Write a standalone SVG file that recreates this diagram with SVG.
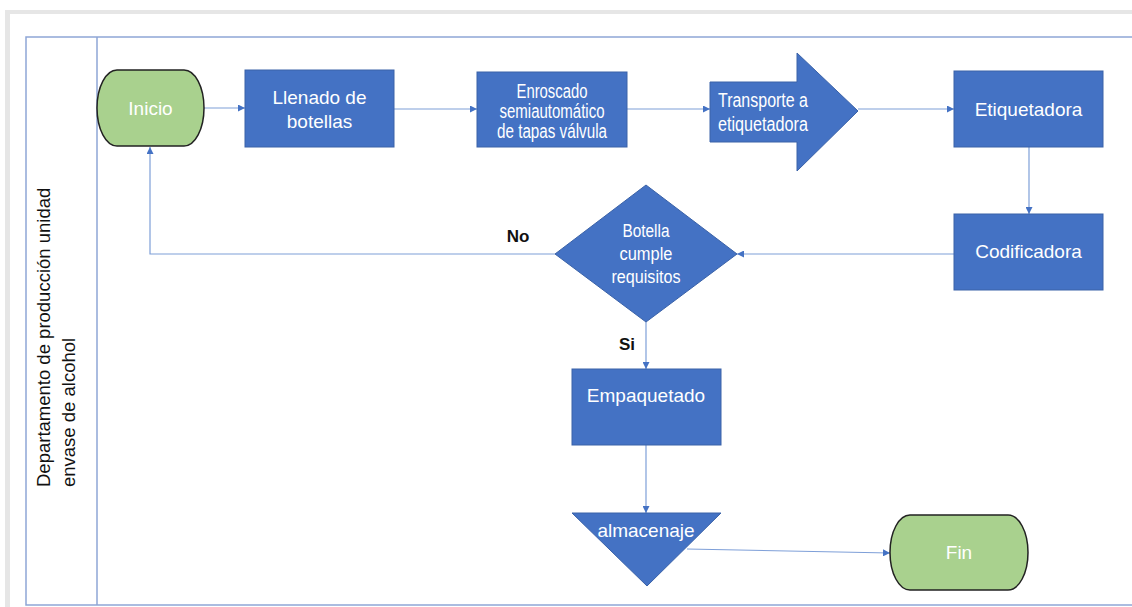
<svg xmlns="http://www.w3.org/2000/svg" width="1132" height="607" viewBox="0 0 1132 607">
  <style>
    .proc { fill: #4472C4; stroke: #3A62A8; stroke-width: 1; }
    .term { fill: #A9D18E; stroke: #222222; stroke-width: 1.5; }
    .lbl { font-family: "Liberation Sans", Arial, sans-serif; font-size: 19px; fill: #FFFFFF; text-anchor: middle; }
    .cond { font-family: "Liberation Sans", Arial, sans-serif; font-size: 20px; fill: #FFFFFF; text-anchor: middle; }
    .dec { font-family: "Liberation Sans", Arial, sans-serif; font-size: 18px; fill: #FFFFFF; text-anchor: middle; }
    .note { font-family: "Liberation Sans", Arial, sans-serif; font-size: 17px; font-weight: bold; fill: #111111; text-anchor: middle; }
    .lane { fill: none; stroke: #8EA6D6; stroke-width: 1.5; }
    .edge { fill: none; stroke: #7E9FD8; stroke-width: 1.2; }
  </style>
  <defs>
    <marker id="arrow" viewBox="0 0 10 10" refX="10" refY="5" markerWidth="7" markerHeight="7" markerUnits="userSpaceOnUse" orient="auto">
      <path d="M0,0 L10,5 L0,10 z" fill="#4472C4"/>
    </marker>
  </defs>

  <!-- page frame -->
  <rect x="0" y="0" width="1132" height="607" fill="#FFFFFF"/>
  <rect x="5" y="10" width="1127" height="4" fill="#E6E6E6"/>
  <rect x="5" y="10" width="5" height="597" fill="#E6E6E6"/>

  <!-- swimlane -->
  <g id="lane">
    <path class="lane" d="M1132,37 H26 V605 H1132"/>
    <line class="lane" x1="97" y1="37" x2="97" y2="605"/>
    <text font-family="'Liberation Sans', Arial, sans-serif" font-size="18.5" fill="#111111" transform="translate(50,487) rotate(-90)">
      <tspan x="0" y="0">Departamento de producción unidad</tspan>
      <tspan x="0" y="25">envase de alcohol</tspan>
    </text>
  </g>

  <!-- connectors -->
  <g id="connectors">
    <line class="edge" x1="204" y1="108" x2="245" y2="108" marker-end="url(#arrow)"/>
    <line class="edge" x1="394" y1="109" x2="477" y2="109" marker-end="url(#arrow)"/>
    <line class="edge" x1="627" y1="109" x2="710" y2="109" marker-end="url(#arrow)"/>
    <line class="edge" x1="858" y1="109" x2="954" y2="109" marker-end="url(#arrow)"/>
    <line class="edge" x1="1029" y1="147" x2="1029" y2="214" marker-end="url(#arrow)"/>
    <line class="edge" x1="954" y1="254" x2="737" y2="254" marker-end="url(#arrow)"/>
    <path class="edge" d="M555,254 H150 V147" marker-end="url(#arrow)"/>
    <line class="edge" x1="646" y1="322" x2="646" y2="369" marker-end="url(#arrow)"/>
    <line class="edge" x1="646" y1="445" x2="646" y2="513" marker-end="url(#arrow)"/>
    <line class="edge" x1="687" y1="549" x2="890" y2="553" marker-end="url(#arrow)"/>
    <text class="note" x="518" y="242">No</text>
    <text class="note" x="627" y="350">Si</text>
  </g>

  <g id="inicio">
    <rect class="term" x="97" y="70" width="107" height="76" rx="20" ry="38"/>
    <text class="lbl" x="150.5" y="115">Inicio</text>
  </g>

  <g id="llenado">
    <rect class="proc" x="245" y="70" width="149" height="77"/>
    <text class="lbl" x="319.5" y="104">Llenado de</text>
    <text class="lbl" x="319.5" y="128">botellas</text>
  </g>

  <g id="enroscado">
    <rect class="proc" x="477" y="72" width="150" height="75"/>
    <text class="cond" x="552" y="98" textLength="71" lengthAdjust="spacingAndGlyphs">Enroscado</text>
    <text class="cond" x="552" y="118" textLength="105" lengthAdjust="spacingAndGlyphs">semiautomático</text>
    <text class="cond" x="552" y="138" textLength="110" lengthAdjust="spacingAndGlyphs">de tapas válvula</text>
  </g>

  <g id="transporte">
    <path class="proc" d="M710,82 H797 V53 L858,111 L797,171 V142 H710 Z"/>
    <text class="cond" x="718" y="107" style="text-anchor:start" textLength="90" lengthAdjust="spacingAndGlyphs">Transporte a</text>
    <text class="cond" x="718" y="131" style="text-anchor:start" textLength="90" lengthAdjust="spacingAndGlyphs">etiquetadora</text>
  </g>

  <g id="etiquetadora">
    <rect class="proc" x="954" y="71" width="149" height="76"/>
    <text class="lbl" x="1028.5" y="116">Etiquetadora</text>
  </g>

  <g id="codificadora">
    <rect class="proc" x="954" y="214" width="149" height="76"/>
    <text class="lbl" x="1028.5" y="258">Codificadora</text>
  </g>

  <g id="decision">
    <path class="proc" d="M646,185 L737,254 L646,322 L555,254 Z"/>
    <text class="dec" x="646" y="237" textLength="47" lengthAdjust="spacingAndGlyphs">Botella</text>
    <text class="dec" x="646" y="260" textLength="53" lengthAdjust="spacingAndGlyphs">cumple</text>
    <text class="dec" x="646" y="283" textLength="69" lengthAdjust="spacingAndGlyphs">requisitos</text>
  </g>

  <g id="empaquetado">
    <rect class="proc" x="572" y="369" width="149" height="76"/>
    <text class="lbl" x="646" y="402">Empaquetado</text>
  </g>

  <g id="almacenaje">
    <path class="proc" d="M572,513 H721 L647,586 Z"/>
    <text class="lbl" x="646" y="537">almacenaje</text>
  </g>

  <g id="fin">
    <rect class="term" x="890" y="515" width="138" height="75" rx="20" ry="37.5"/>
    <text class="lbl" x="959" y="559">Fin</text>
  </g>
</svg>
